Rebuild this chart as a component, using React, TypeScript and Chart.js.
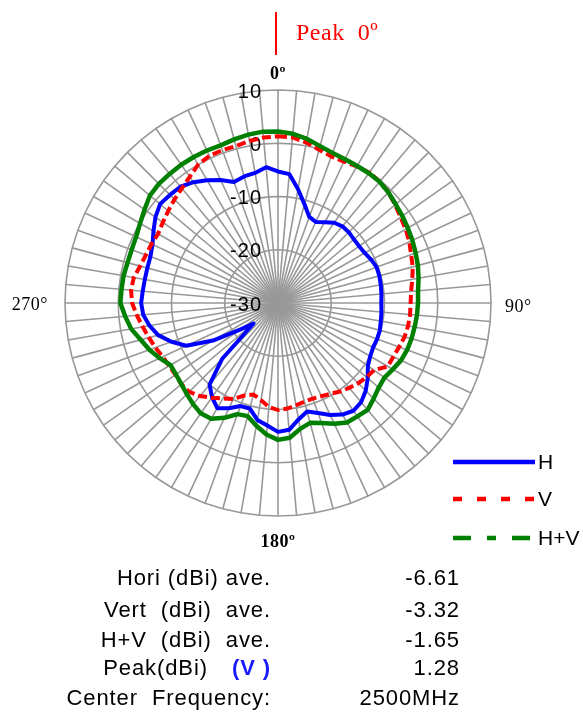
import React, { useEffect, useRef } from "react";
import { Chart, registerables } from "chart.js";

Chart.register(...registerables);

// ---------------- data ----------------
const angles = [
  0, 5, 10, 15, 20, 25, 30, 35, 40, 45, 50, 55, 60, 65, 70, 75, 80, 85,
  90, 95, 100, 105, 110, 115, 120, 125, 130, 135, 140, 145, 150, 155, 160, 165, 170, 175,
  180, 185, 190, 195, 200, 205, 210, 215, 220, 225, 230, 235, 240, 245, 250, 255, 260, 265,
  270, 275, 280, 285, 290, 295, 300, 305, 310, 315, 320, 325, 330, 335, 340, 345, 350, 355,
];

const cardinalAngles = [0, 90, 180, 270];
const cardinalLabels = ["0º", "90°", "180º", "270°"];

const hValues = [
  -5.3, -5.7, -8.3, -10.8, -12.8, -13.2, -12.5, -11.6, -11.2, -11.2, -11.4, -11.4, -11.2, -10.7, -10.3, -10.3, -10.4, -10.5,
  -10.6, -10.5, -10.4, -10.2, -10.2, -10.3, -10.0, -9.4, -8.0, -6.7, -5.7, -5.3, -5.8, -6.8, -8.0, -8.9, -7.8, -6.1,
  -5.8, -6.9, -7.7, -9.5, -9.4, -8.2, -7.2, -8.4, -10.0, -15.2, -24.0, -21.3, -15.9, -11.0, -8.7, -6.7, -5.5, -4.6,
  -4.3, -4.5, -4.6, -4.6, -4.5, -4.0, -3.0, -1.9, -1.1, -1.3, -1.5, -2.3, -3.4, -4.5, -5.8, -5.4, -5.2, -4.4,
];

const vValues = [
  1.3, 1.2, 0.6, -0.2, -0.7, -0.7, -0.4, -0.1, -0.25, -0.65, -1.3, -1.9, -2.3, -2.8, -3.4, -3.8, -4.4, -4.9,
  -5.1, -5.1, -5.2, -5.4, -5.8, -6.1, -6.2, -8.0, -8.3, -8.7, -9.2, -9.7, -10.3, -10.7, -10.9, -10.8, -10.5, -10.1,
  -9.9, -10.4, -11.5, -12.2, -11.5, -10.1, -9.3, -8.3, -7.2, -6.4, -6.3, -6.5, -6.4, -6.1, -5.5, -4.9, -4.2, -3.4,
  -2.6, -2.3, -2.5, -3.2, -3.6, -3.8, -4.0, -3.6, -3.1, -2.5, -1.9, -1.1, 0.0, 0.5, 0.55, 0.5, 0.9, 1.2,
];

const hvValues = [
  2.2, 1.9, 1.3, 0.5, 0.0, -0.2, -0.3, -0.25, -0.3, -0.65, -1.15, -1.5, -1.85, -2.15, -2.5, -2.8, -3.2, -3.6,
  -3.7, -3.8, -3.95, -4.05, -4.2, -4.5, -5.1, -5.6, -5.3, -4.6, -3.8, -4.0, -4.1, -5.0, -6.0, -6.7, -6.0, -4.6,
  -4.3, -5.2, -6.6, -8.0, -7.8, -6.2, -4.9, -4.7, -5.2, -5.8, -6.3, -6.6, -6.7, -5.5, -4.3, -3.3, -2.0, -1.2,
  -0.4, -0.5, -0.55, -0.75, -0.75, -0.6, -0.1, 0.6, 1.4, 1.65, 1.65, 1.7, 1.65, 1.6, 1.5, 1.8, 2.1, 2.3,
];

const seriesNames = ["H", "V", "H+V"];
const tickValues = [10, 0, -10, -20, -30];

const statLabels = ["Hori (dBi) ave.", "Vert  (dBi)  ave.", "H+V  (dBi)  ave.", "Peak(dBi)", "Center  Frequency:"];
const statValues = ["-6.61", "-3.32", "-1.65", "1.28", "2500MHz"];
const peakPolarization = "(V )";
const peakTitle = "Peak  0º";

// ---------------- styles ----------------
const SANS = '"Liberation Sans", Arial, Helvetica, sans-serif';
const SERIF = '"Liberation Serif", "Times New Roman", Times, serif';
const GRID = "rgb(152,152,152)";
const BLUE = "#0000ff";
const RED = "#ff0000";
const GREEN = "#008000";

const overlayPlugin = {
  id: "polarOverlay",
  beforeDatasetsDraw(chart: any) {
    const scale = chart.scales.r;
    const ctx = chart.ctx;
    ctx.save();
    ctx.font = `20px ${SANS}`;
    try { (ctx as any).letterSpacing = "1px"; } catch (e) {}
    ctx.fillStyle = "#000";
    ctx.textAlign = "right";
    ctx.textBaseline = "middle";
    tickValues.forEach((v) => {
      const d = scale.getDistanceFromCenterForValue(v);
      ctx.fillText(String(v), scale.xCenter - 16, scale.yCenter - d + 2);
    });
    ctx.restore();
  },
  afterDraw(chart: any) {
    const scale = chart.scales.r;
    const ctx = chart.ctx;
    const cx = scale.xCenter;
    const cy = scale.yCenter;
    const R = scale.drawingArea;
    ctx.save();
    ctx.fillStyle = "#000";
    try { (ctx as any).letterSpacing = "0.5px"; } catch (e) {}
    cardinalAngles.forEach((a, i) => {
      const txt = cardinalLabels[i];
      ctx.textBaseline = "middle";
      if (a === 0) {
        ctx.font = `bold 18px ${SERIF}`;
        ctx.textAlign = "center";
        ctx.fillText(txt, cx, cy - R - 16);
      } else if (a === 180) {
        ctx.font = `bold 18px ${SERIF}`;
        ctx.textAlign = "center";
        ctx.fillText(txt, cx, cy + R + 26);
      } else if (a === 90) {
        ctx.font = `18px ${SERIF}`;
        ctx.textAlign = "left";
        ctx.fillText(txt, cx + R + 14, cy + 4);
      } else {
        ctx.font = `18px ${SERIF}`;
        ctx.textAlign = "right";
        ctx.fillText(txt, cx - R - 17, cy + 2);
      }
    });
    ctx.restore();

    // legend: H, V, H+V from top to bottom
    const rowsY = [462, 499, 538];
    const x0 = 453;
    const x1 = 535;
    ctx.save();
    seriesNames.forEach((name, i) => {
      const ds: any = chart.data.datasets.find((d: any) => d.label === name);
      if (!ds) return;
      const y = rowsY[i];
      ctx.beginPath();
      ctx.strokeStyle = ds.borderColor;
      ctx.lineWidth = 4.5;
      ctx.lineCap = "butt";
      ctx.setLineDash(ds.legendDash || []);
      ctx.moveTo(x0, y);
      ctx.lineTo(x1, y);
      ctx.stroke();
      ctx.setLineDash([]);
      ctx.fillStyle = "#000";
      ctx.font = `21px ${SANS}`;
      ctx.textAlign = "left";
      ctx.textBaseline = "middle";
      ctx.fillText(ds.label, x1 + 3, y + 1);
    });
    ctx.restore();
  },
};

export default function App() {
  const canvasRef = useRef<HTMLCanvasElement | null>(null);

  useEffect(() => {
    const canvas = canvasRef.current;
    if (!canvas) return;
    const chart = new Chart(canvas, {
      type: "radar",
      data: {
        labels: angles.map((a) => String(a)),
        datasets: [
          {
            label: seriesNames[2],
            data: hvValues,
            borderColor: GREEN,
            backgroundColor: GREEN,
            borderWidth: 4.5,
            fill: false,
            pointRadius: 0,
            borderJoinStyle: "round",
            legendDash: [18, 16, 9, 16],
            order: 0,
          } as any,
          {
            label: seriesNames[1],
            data: vValues,
            borderColor: RED,
            backgroundColor: RED,
            borderWidth: 4,
            borderDash: [9, 4],
            fill: false,
            pointRadius: 0,
            legendDash: [9, 15],
            segment: {
              borderWidth: (c: any) => (c.p0DataIndex >= 24 && c.p0DataIndex < 54 ? 2.5 : 4),
            },
            order: 1,
          } as any,
          {
            label: seriesNames[0],
            data: hValues,
            borderColor: BLUE,
            backgroundColor: BLUE,
            borderWidth: 4,
            fill: false,
            pointRadius: 0,
            borderJoinStyle: "round",
            legendDash: [],
            order: 2,
          } as any,
        ],
      },
      options: {
        responsive: false,
        devicePixelRatio: 1,
        animation: false,
        events: [],
        layout: { padding: { left: 65, right: 92, top: 90, bottom: 197 } },
        plugins: { legend: { display: false }, tooltip: { enabled: false }, title: { display: false } },
        elements: { line: { tension: 0 }, point: { radius: 0 } },
        scales: {
          r: {
            min: -30,
            max: 10,
            startAngle: 0,
            ticks: { display: false, stepSize: 10 },
            grid: { color: GRID, lineWidth: 1.6 },
            angleLines: { color: GRID, lineWidth: 1.6 },
            pointLabels: { display: false },
          },
        },
      },
      plugins: [overlayPlugin],
    } as any);
    return () => chart.destroy();
  }, []);

  const rowTops = [567, 599, 629, 657, 687];
  const textStyle: React.CSSProperties = {
    position: "absolute",
    fontFamily: SANS,
    fontSize: 22,
    lineHeight: "22px",
    letterSpacing: "0.9px",
    whiteSpace: "pre",
    color: "#000",
  };

  return (
    <div style={{ position: "absolute", left: 0, top: 0, width: 583, height: 713, background: "#fff", overflow: "hidden" }}>
      <canvas ref={canvasRef} width={583} height={713} style={{ position: "absolute", left: 0, top: 0 }} />
      <div style={{ position: "absolute", left: 275, top: 12, width: 1.5, height: 43, background: RED }} />
      <div
        style={{
          position: "absolute",
          left: 296,
          top: 20,
          fontFamily: SERIF,
          fontSize: 24,
          lineHeight: "24px",
          letterSpacing: "0.5px",
          color: RED,
          whiteSpace: "pre",
        }}
      >
        {peakTitle}
      </div>
      {statLabels.map((lab, i) => (
        <div key={"l" + i} style={{ ...textStyle, top: rowTops[i], right: 583 - 271, textAlign: "right" }}>
          {i === 3 ? (
            <>
              <span style={{ marginRight: 24 }}>{lab}</span>
              <span style={{ color: "#1a1aff", fontWeight: "bold" }}>{peakPolarization}</span>
            </>
          ) : (
            lab
          )}
        </div>
      ))}
      {statValues.map((v, i) => (
        <div key={"v" + i} style={{ ...textStyle, top: rowTops[i], right: 583 - 460, textAlign: "right" }}>
          {v}
        </div>
      ))}
    </div>
  );
}
